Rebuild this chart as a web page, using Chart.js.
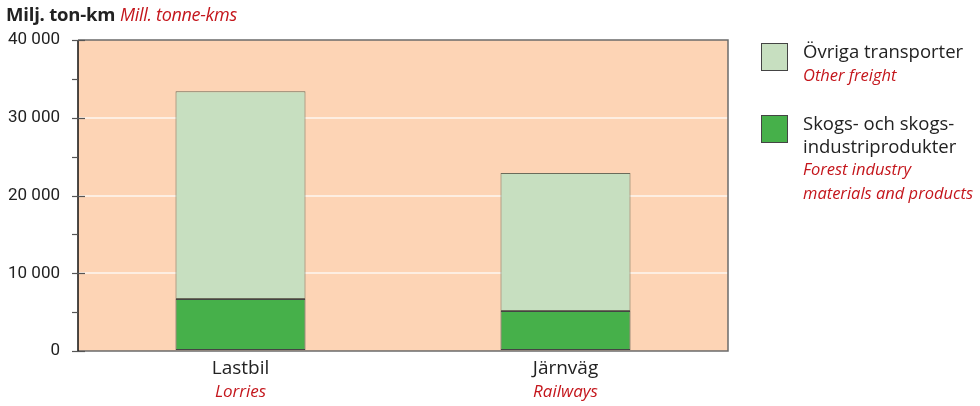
<!DOCTYPE html>
<html>
<head>
<meta charset="utf-8">
<script src="https://cdn.jsdelivr.net/npm/chart.js@4"></script>
<style>
	body { margin: 0; background: #fff; font-family: 'Open Sans', sans-serif; }
	#wrap { position: relative; width: 980px; height: 406px; }
	#title { position: absolute; left: 6px; top: 1px; font-size: 18.5px; color: #222; white-space: nowrap; letter-spacing: -0.2px; }
	#title b { font-weight: 700; }
	#title i { color: #c4161c; font-size: 18px; letter-spacing: -0.3px; }
	.leg { position: absolute; left: 761px; font-size: 18.5px; line-height: 22.5px; color: #222; }
	.leg .box { position: absolute; left: 0; top: 0; width: 27px; height: 28px; border: 1px solid #444; box-sizing: border-box; }
	.leg .txt { position: absolute; left: 42px; top: -3px; white-space: nowrap; }
	.leg i { color: #c4161c; font-size: 16.5px; }
</style>
</head>
<body>
<div id="wrap">
	<canvas id="chart" width="980" height="406"></canvas>
	<div id="title"><b>Milj. ton-km</b> <i>Mill. tonne-kms</i></div>
	<div class="leg" style="top:43px">
		<div class="box" style="background:#c7dfc0"></div>
		<div class="txt">Övriga transporter<br><i>Other freight</i></div>
	</div>
	<div class="leg" style="top:115px">
		<div class="box" style="background:#46b04a"></div>
		<div class="txt">Skogs- och skogs-<br>industriprodukter<br><i>Forest industry<br>materials and products</i></div>
	</div>
</div>
<script>
// Data
const categories = ['Lastbil', 'Järnväg'];
const categoriesEn = ['Lorries', 'Railways'];
const forestProducts = [6700, 5150];
const otherFreight = [26700, 17750];
const yTicks = [0, 10000, 20000, 30000, 40000];

const fontFamily = '"Open Sans", sans-serif';

function fmt(v) {
	return v.toString().replace(/\B(?=(\d{3})+(?!\d))/g, ' ');
}

// background, frame, tick marks, two-line x labels
const decor = {
	id: 'decor',
	beforeDraw(chart) {
		const { ctx, chartArea: a } = chart;
		ctx.save();
		ctx.fillStyle = '#fdd4b5';
		ctx.fillRect(a.left, a.top, a.right - a.left, a.bottom - a.top);
		ctx.restore();
	},
	afterDraw(chart) {
		const { ctx, chartArea: a } = chart;
		const y = chart.scales.y;
		const x = chart.scales.x;
		ctx.save();
		// frame top/right/bottom
		ctx.strokeStyle = '#6b6b6b';
		ctx.lineWidth = 1.5;
		ctx.beginPath();
		ctx.moveTo(a.left, a.top);
		ctx.lineTo(a.right, a.top);
		ctx.lineTo(a.right, a.bottom);
		ctx.lineTo(a.left, a.bottom);
		ctx.stroke();
		// left axis
		ctx.strokeStyle = '#111';
		ctx.beginPath();
		ctx.moveTo(a.left, a.top);
		ctx.lineTo(a.left, a.bottom);
		ctx.stroke();
		// tick marks
		ctx.strokeStyle = '#555';
		ctx.lineWidth = 1.2;
		y.ticks.forEach(t => {
			const py = Math.round(y.getPixelForValue(t.value)) + 0.5;
			const major = yTicks.includes(t.value);
			ctx.beginPath();
			ctx.moveTo(a.left - 6, py);
			ctx.lineTo(major ? a.left + 7 : a.left, py);
			ctx.stroke();
		});
		// x labels
		ctx.textAlign = 'center';
		ctx.textBaseline = 'middle';
		categories.forEach((c, i) => {
			const px = x.getPixelForTick(i);
			ctx.fillStyle = '#222';
			ctx.font = '19px ' + fontFamily;
			ctx.fillText(c, px, 369);
			ctx.fillStyle = '#c4161c';
			ctx.font = 'italic 17px ' + fontFamily;
			ctx.fillText(categoriesEn[i], px, 392);
		});
		ctx.restore();
	},
};

const ctx = document.getElementById('chart');

new Chart(ctx, {
	type: 'bar',
	data: {
		labels: categories,
		datasets: [
			{
				label: 'Skogs- och skogsindustriprodukter',
				data: forestProducts,
				backgroundColor: '#46b04a',
				borderColor: '#444',
				borderWidth: 1,
				borderSkipped: false,
			},
			{
				label: 'Övriga transporter',
				data: otherFreight,
				backgroundColor: '#c7dfc0',
				borderColor: '#6b6b5a',
				borderWidth: 1,
				borderSkipped: false,
			},
		],
	},
	options: {
		responsive: false,
		animation: false,
		layout: {
			padding: { top: 40, right: 252, left: 0, bottom: 0 },
		},
		datasets: {
			bar: { barPercentage: 0.4, categoryPercentage: 1 },
		},
		scales: {
			x: {
				stacked: true,
				grid: { display: false },
				border: { display: false },
				ticks: { display: false },
				afterFit(scale) { scale.height = 55; },
			},
			y: {
				stacked: true,
				min: 0,
				max: 40000,
				border: { display: false },
				grid: {
					drawTicks: false,
					lineWidth: 2,
					color: c => (c.tick && c.tick.value % 10000 === 0 && c.tick.value > 0 && c.tick.value < 40000) ? '#fdeee2' : 'rgba(0,0,0,0)',
				},
				ticks: {
					stepSize: 5000,
					padding: 18,
					color: '#222',
					font: { family: 'Roboto, sans-serif', size: 17 },
					callback: v => (yTicks.includes(v) ? fmt(v) : ''),
				},
				afterFit(scale) { scale.width = 78; },
			},
		},
		plugins: {
			legend: { display: false },
			tooltip: { enabled: false },
		},
	},
	plugins: [decor],
});
</script>
</body>
</html>
